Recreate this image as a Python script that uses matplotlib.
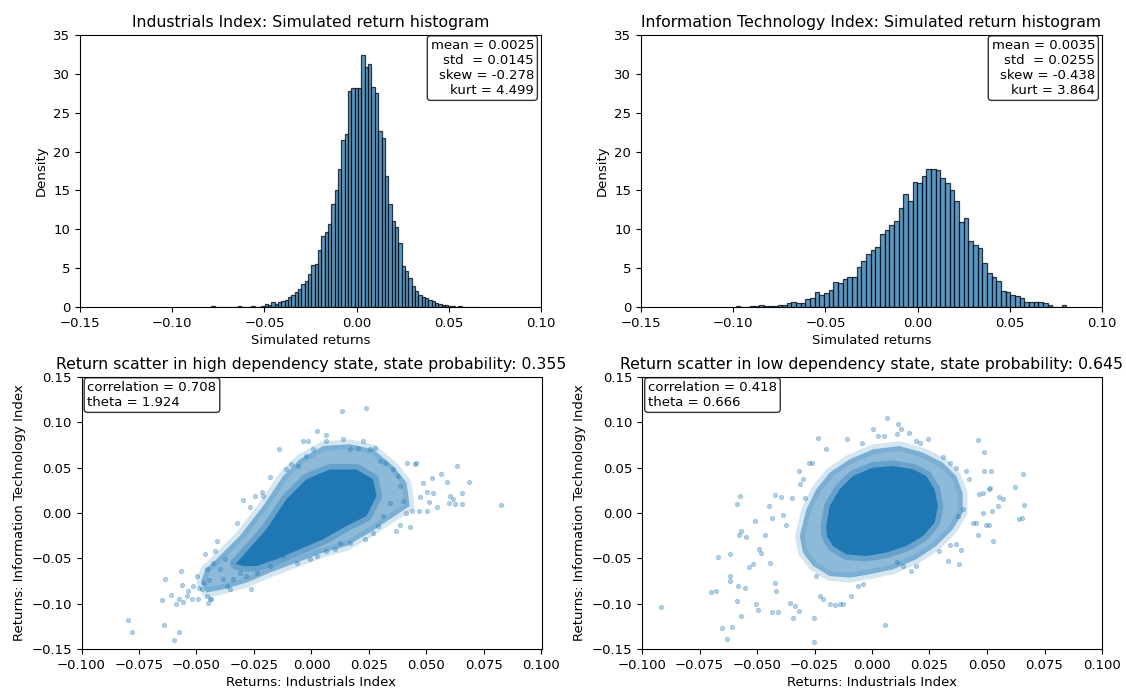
import numpy as np
import matplotlib
matplotlib.use("Agg")
import matplotlib.pyplot as plt

plt.rcParams["font.size"] = 9.5

# ---------------- Histogram data (densities) ----------------
ind_bin_start = -0.0788
ind_bin_width = 0.00181
ind_density = [
    0.12, 0, 0, 0, 0, 0, 0, 0, 0.10, 0, 0, 0, 0.12, 0, 0, 0.15,
    0.43, 0.2, 0.69, 0.35, 0.6, 0.77, 0.94,
    1.3, 1.6, 1.9, 2.3, 3.0, 3.35, 4.2, 5.4, 5.5, 7.3, 9.2, 9.6, 10.7, 13.3,
    15.1, 17.7, 21.5, 22.3, 27.8, 28.2, 28.2, 28.2, 32.4, 30.9, 31.3, 28.3,
    27.5, 22.6, 21.8, 16.9, 13.2, 11.1, 10.3, 8.2, 5.3, 4.6, 3.7, 2.7, 2.0,
    1.6, 1.3, 1.1, 0.85, 0.75, 0.55, 0.4, 0.3, 0.2, 0.18, 0.12, 0.06, 0.1,
    0.05, 0, 0.06, 0, 0.05,
]

it_bin_start = -0.0987
it_bin_width = 0.002525
it_density = [
    0.13, 0.05, 0.0, 0.1, 0.13, 0.2, 0.13, 0.17, 0.13, 0.2, 0.2, 0.56, 0.69,
    0.56, 0.56, 1.03, 1.16, 1.97, 1.6, 1.8, 2.2, 3.2, 3.1, 3.6, 3.8, 3.8,
    5.1, 5.9, 6.8, 7.3, 7.7, 9.4, 9.9, 10.6, 11.1, 12.7, 14.5, 13.6, 16.1,
    16.0, 16.9, 17.7, 17.7, 17.6, 16.6, 15.9, 15.0, 13.6, 10.9, 11.5, 8.5,
    8.0, 7.6, 5.6, 4.4, 3.9, 3.3, 2.0, 1.9, 1.5, 1.4, 1.1, 0.7, 0.64, 0.6,
    0.6, 0.5, 0.3, 0.05, 0.0, 0.2,
]

ind_stats = "mean = 0.0025\nstd  = 0.0145\nskew = -0.278\nkurt = 4.499"
it_stats = "mean = 0.0035\nstd  = 0.0255\nskew = -0.438\nkurt = 3.864"

# ---------------- Scatter data ----------------
# High dependency state: dense core outline, medium-density zone outline, sparse points
hi_core_x = [-0.0312, -0.0196, -0.0109, -0.0022, 0.0080, 0.0196, 0.0268, 0.0283,
             0.0239, 0.0152, 0.0050, -0.0051, -0.0152, -0.0239, -0.0297, -0.0330]
hi_core_y = [-0.0510, -0.0180, 0.0151, 0.0372, 0.0480, 0.0480, 0.0372, 0.0188,
             -0.0033, -0.0143, -0.0290, -0.0400, -0.0510, -0.0585, -0.0585, -0.0560]
hi_mid_x = [-0.0413, -0.0312, -0.0210, -0.0123, -0.0051, 0.0050, 0.0167, 0.0268,
            0.0355, 0.0413, 0.0427, 0.0340, 0.0253, 0.0152, 0.0050, -0.0065,
            -0.0181, -0.0283, -0.0384, -0.0457, -0.0480, -0.0460]
hi_mid_y = [-0.0510, -0.0254, 0.0077, 0.0408, 0.0592, 0.0739, 0.0758, 0.0702,
            0.0518, 0.0335, 0.0077, -0.0069, -0.0216, -0.0364, -0.0437, -0.0547,
            -0.0657, -0.0768, -0.0842, -0.0878, -0.0750, -0.0620]
hi_pts_x = [-0.0797, -0.0780, -0.0642, -0.0597, -0.0575, -0.0652, -0.0638, -0.0611,
            -0.0587, -0.0575, -0.0558, -0.0567, -0.0565, -0.0543, -0.0536, -0.0519,
            -0.0514, -0.0500, -0.0493, -0.0490, -0.0478, -0.0471, -0.0464, -0.0456,
            -0.0449, -0.0442, -0.0435, -0.0446, -0.0456, -0.0427, -0.0413, -0.0420,
            -0.0398, -0.0384, -0.0377, -0.0369, -0.0355, -0.0343, -0.0326, -0.0297,
            -0.0268, -0.0261, -0.0246, -0.0217, -0.0210, -0.0181, -0.0141, -0.0312,
            -0.0283, -0.0239,
            0.0022, 0.0065, 0.0133, 0.0236, -0.0036, -0.0014, 0.0007, 0.0061, 0.0138,
            0.0225, 0.0275, 0.0297, -0.0087, -0.0109, -0.0058, -0.0022, 0.0167, 0.0203,
            0.0254, 0.0319,
            0.0417, 0.0456, 0.0449, 0.0633, 0.0685, 0.0587, 0.0561, 0.0525, 0.0485,
            0.0503, 0.0529, 0.0471, 0.0509, 0.0601, 0.0616, 0.0598, 0.0622, 0.0656,
            0.0656, 0.0822, 0.0546, 0.0467, 0.0500, 0.0435, 0.0413, 0.0427, 0.0384,
            0.0369, 0.0398, 0.0384, 0.0377, 0.0355, 0.0341, 0.0312, 0.0290, 0.0268,
            0.0232, 0.0167, 0.0123, 0.0101, 0.0065, 0.0022, -0.0007, -0.0065, -0.0123,
            -0.0181]
hi_pts_y = [-0.1180, -0.1316, -0.1235, -0.1400, -0.1309, -0.0959, -0.0732, -0.0901,
            -0.1004, -0.0952, -0.0978, -0.0636, -0.0798, -0.0915, -0.0860, -0.0952,
            -0.0805, -0.0695, -0.0952, -0.0831, -0.0842, -0.0768, -0.0456, -0.0915,
            -0.0989, -0.0952, -0.0945, -0.0739, -0.0621, -0.0548, -0.0309, -0.0419,
            -0.0621, -0.0732, -0.0511, -0.0805, -0.0842, -0.0732, -0.0114, 0.0140,
            0.0062, -0.0834, 0.0187, 0.0235, 0.0187, 0.0401, 0.0709, -0.0658,
            -0.0695, -0.0658,
            0.0904, 0.0857, 0.1125, 0.1158, 0.0794, 0.0794, 0.0702, 0.0798, 0.0812,
            0.0790, 0.0713, 0.0573, 0.0537, 0.0482, 0.0518, 0.0629, 0.0702, 0.0720,
            0.0702, 0.0555,
            0.0551, 0.0555, 0.0537, 0.0518, 0.0342, 0.0342, 0.0434, 0.0390, 0.0335,
            0.0232, 0.0224, 0.0176, 0.0125, 0.0187, 0.0151, 0.0114, 0.0096, 0.0217,
            0.0096, 0.0085, 0.0066, 0.0026, 0.0022, 0.0022, 0.0004, -0.0151, -0.0132,
            -0.0195, 0.0132, 0.0298, 0.0408, 0.0482, 0.0114, -0.0033, -0.0143, -0.0217,
            -0.0283, -0.0327, -0.0327, -0.0401, -0.0419, -0.0474, -0.0504, -0.0548, -0.0474,
            -0.0584]

# Low dependency state
lo_core_x = [-0.0199, -0.0184, -0.0141, -0.0083, 0.0004, 0.0091, 0.0178, 0.0236,
             0.0272, 0.0287, 0.0272, 0.0222, 0.0149, 0.0062, -0.0025, -0.0112,
             -0.0170, -0.0196]
lo_core_y = [-0.0143, 0.0077, 0.0261, 0.0408, 0.0500, 0.0518, 0.0482, 0.0408,
             0.0261, 0.0077, -0.0107, -0.0254, -0.0364, -0.0437, -0.0474, -0.0456,
             -0.0364, -0.0254]
lo_mid_x = [-0.0314, -0.0285, -0.0242, -0.0184, -0.0097, 0.0004, 0.0120, 0.0222,
            0.0308, 0.0366, 0.0394, 0.0394, 0.0351, 0.0279, 0.0192, 0.0091, -0.0010,
            -0.0097, -0.0184, -0.0256, -0.0300]
lo_mid_y = [-0.0254, 0.0040, 0.0261, 0.0445, 0.0592, 0.0702, 0.0739, 0.0665,
            0.0555, 0.0408, 0.0224, 0.0004, -0.0180, -0.0364, -0.0511, -0.0621, -0.0676,
            -0.0713, -0.0695, -0.0584, -0.0437]
lo_pts_x = [-0.0916, -0.0698, -0.0677, -0.0652, -0.0629, -0.0619, -0.0619, -0.0609,
            -0.0582, -0.0587, -0.0569, -0.0575, -0.0587, -0.0571, -0.0580, -0.0546,
            -0.0669, -0.0616, -0.0552, -0.0536, -0.0517, -0.0507, -0.0503, -0.0496,
            -0.0493, -0.0481, -0.0465, -0.0449, -0.0445, -0.0435, -0.0433, -0.0423,
            -0.0420, -0.0409, -0.0416, -0.0396, -0.0387, -0.0372, -0.0358, -0.0346,
            -0.0343, -0.0333, -0.0319, -0.0317, -0.0314, -0.0300, -0.0293, -0.0275,
            -0.0261, -0.0254, -0.0254, -0.0235, -0.0242, -0.0227, -0.0213, -0.0198,
            -0.0184, -0.0162, -0.0141, -0.0126, -0.0108, -0.0090, -0.0061, -0.0043,
            -0.0039, 0.0004, 0.0026, 0.0051, 0.0067, 0.0113, 0.0124, 0.0108, 0.0163,
            0.0192, 0.0207, 0.0243, 0.0055, 0.0108, 0.0134, 0.0171, 0.0192, 0.0293,
            0.0329, 0.0337, 0.0366, 0.0380, 0.0387, 0.0376, 0.0394, 0.0438, 0.0452,
            0.0459, 0.0462, 0.0488, 0.0488, 0.0517, 0.0510, 0.0513, 0.0481, 0.0467,
            0.0553, 0.0568, 0.0546, 0.0522, 0.0481, 0.0496, 0.0510, 0.0527, 0.0620,
            0.0655, 0.0662, 0.0640, 0.0652, 0.0423, 0.0409, 0.0366, 0.0337, 0.0308]
lo_pts_y = [-0.1033, -0.0875, -0.0864, -0.1268, -0.1386, -0.0695, -0.0750, -0.1254,
            -0.0805, -0.0970, -0.1140, 0.0191, 0.0096, -0.0195, -0.0239, -0.0261,
            -0.0482, -0.0448, -0.0831, -0.0592, -0.0562, -0.0092, -0.1004, -0.1073,
            -0.0393, -0.0437, -0.0239, 0.0074, -0.0548, -0.0055, -0.1095, 0.0195,
            -0.0768, -0.1092, -0.0864, 0.0176, -0.0018, -0.0136, -0.0989, 0.0162,
            -0.1162, -0.1026, -0.1081, 0.0463, 0.0316, 0.0371, 0.0169, 0.0555,
            0.0555, -0.1154, -0.1423, 0.0823, -0.0695, -0.0915, -0.0952, 0.0702,
            -0.1007, -0.1011, -0.1007, -0.1004, 0.0812, -0.0915, -0.0805, 0.0776,
            -0.0787, 0.0930, 0.0849, 0.0849, 0.1051, 0.0985, 0.0923, 0.0868, 0.0886,
            0.0794, 0.0768, 0.0812, -0.1235, -0.0540, -0.0584, -0.0640, -0.0584, -0.0419,
            -0.0526, -0.0357, -0.0346, -0.0559, -0.0408, -0.0033, 0.0040, -0.0107, -0.0107,
            -0.0243, 0.0805, 0.0669, 0.0463, 0.0460, 0.0261, 0.0279, 0.0224, 0.0210,
            0.0180, 0.0151, 0.0077, 0.0018, 0.0004, -0.0136, -0.0136, -0.0305, 0.0290,
            0.0426, 0.0085, -0.0062, -0.0051, 0.0371, 0.0463, 0.0496, 0.0555, 0.0618]

hi_prob = 0.355
lo_prob = 0.645
hi_text = "correlation = 0.708\ntheta = 1.924"
lo_text = "correlation = 0.418\ntheta = 0.666"

# ---------------- Plot ----------------
BLUE = "#1f77b4"
TITLE_FS = 11.3
fig = plt.figure(figsize=(11.26, 6.91), dpi=100)
W, H = 1126, 691


def ax_at(x0, y0, x1, y1):
    return fig.add_axes([x0 / W, 1 - y1 / H, (x1 - x0) / W, (y1 - y0) / H])


ax1 = ax_at(80, 35, 541, 307)
ax2 = ax_at(641, 35, 1102, 307)
ax3 = ax_at(81.5, 377, 541.5, 649)
ax4 = ax_at(642, 377, 1102, 649)


def draw_hist(ax, start, width, dens, title, stats):
    edges = start + width * np.arange(len(dens))
    ax.bar(edges, dens, width=width, align="edge", color=BLUE, alpha=0.75,
           edgecolor="black", linewidth=0.9)
    ax.set_xlim(-0.15, 0.10)
    ax.set_ylim(0, 35)
    ax.set_xticks([-0.15, -0.10, -0.05, 0.00, 0.05, 0.10])
    ax.set_yticks(range(0, 36, 5))
    ax.set_xlabel("Simulated returns", labelpad=3)
    ax.set_ylabel("Density")
    ax.set_title(title, fontsize=TITLE_FS)
    ax.text(0.985, 0.985, stats, transform=ax.transAxes, ha="right", va="top",
            multialignment="right",
            bbox=dict(boxstyle="round,pad=0.25", facecolor="white", edgecolor="black",
                      alpha=0.8))


draw_hist(ax1, ind_bin_start, ind_bin_width, ind_density,
          "Industrials Index: Simulated return histogram", ind_stats)
draw_hist(ax2, it_bin_start, it_bin_width, it_density,
          "Information Technology Index: Simulated return histogram", it_stats)


def draw_scatter(ax, core_x, core_y, mid_x, mid_y, px, py, prob, label, state):
    ax.fill(mid_x, mid_y, facecolor="none", edgecolor=BLUE, alpha=0.18,
            linewidth=7, joinstyle="round")
    ax.fill(mid_x, mid_y, color=BLUE, alpha=0.5, linewidth=0)
    ax.fill(core_x, core_y, facecolor="none", edgecolor=BLUE, alpha=0.35,
            linewidth=8, joinstyle="round")
    ax.fill(core_x, core_y, color=BLUE, alpha=1.0, linewidth=0)
    ax.scatter(px, py, s=10, color=BLUE, alpha=0.35, linewidths=0.5)
    ax.set_xlim(-0.1, 0.1)
    ax.set_ylim(-0.15, 0.15)
    ax.set_xticks(np.arange(-0.1, 0.1001, 0.025))
    ax.set_yticks(np.arange(-0.15, 0.1501, 0.05))
    ax.set_xlabel("Returns: Industrials Index", labelpad=3)
    ax.set_ylabel("Returns: Information Technology Index")
    ax.set_title(f"Return scatter in {state} dependency state, state probability: {prob:.3f}",
                 fontsize=TITLE_FS)
    ax.text(0.013, 0.985, label, transform=ax.transAxes, ha="left", va="top",
            bbox=dict(boxstyle="round,pad=0.25", facecolor="white", edgecolor="black",
                      alpha=0.8))


draw_scatter(ax3, hi_core_x, hi_core_y, hi_mid_x, hi_mid_y, hi_pts_x, hi_pts_y,
             hi_prob, hi_text, "high")
draw_scatter(ax4, lo_core_x, lo_core_y, lo_mid_x, lo_mid_y, lo_pts_x, lo_pts_y,
             lo_prob, lo_text, "low")

fig.savefig("out.png", dpi=100)
